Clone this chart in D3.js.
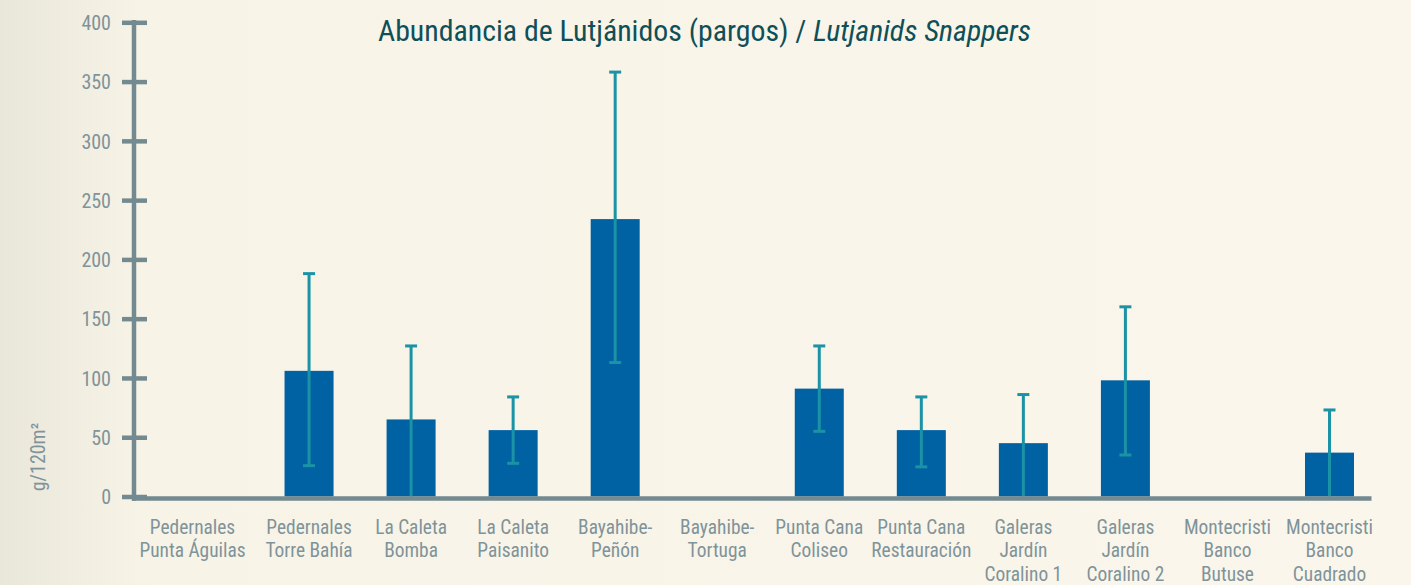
<!DOCTYPE html>
<html>
<head>
<meta charset="utf-8">
<script src="https://cdn.jsdelivr.net/npm/d3@7"></script>
<style>
  html, body { margin: 0; padding: 0; }
  body { width: 1411px; height: 585px; overflow: hidden; }
  svg text { font-family: "Liberation Sans Narrow", "Roboto Condensed", "Arial Narrow", sans-serif; }
</style>
</head>
<body>
<svg id="chart" width="1411" height="585"></svg>
<script>
// data
var sites = [
    ["Pedernales", "Punta Águilas"],
    ["Pedernales", "Torre Bahía"],
    ["La Caleta", "Bomba"],
    ["La Caleta", "Paisanito"],
    ["Bayahibe-", "Peñón"],
    ["Bayahibe-", "Tortuga"],
    ["Punta Cana", "Coliseo"],
    ["Punta Cana", "Restauración"],
    ["Galeras", "Jardín", "Coralino 1"],
    ["Galeras", "Jardín", "Coralino 2"],
    ["Montecristi", "Banco", "Butuse"],
    ["Montecristi", "Banco", "Cuadrado"]
];
var means = [0, 106, 65, 56, 234, 0, 91, 56, 45, 98, 0, 37];
var errHigh = [0, 188, 127, 84, 358, 0, 127, 84, 86, 160, 0, 73];
var errLow  = [0, 26, 0, 28, 113, 0, 55, 25, 0, 35, 0, 0];
var yTicks = [0, 50, 100, 150, 200, 250, 300, 350, 400];

var axisColor = "#738a90",
    labelColor = "#7f939a",
    barColor = "#0061a3",
    errColor = "#1b93a6";

document.addEventListener("DOMContentLoaded", function() {
    drawChart();
});

function drawChart() {

    var svg = d3.select("#chart");

    // background with a slightly darker left edge
    var grad = svg.append("defs").append("linearGradient")
        .attr("id", "bg")
        .attr("x1", 0).attr("x2", 1).attr("y1", 0).attr("y2", 0);
    grad.append("stop").attr("offset", "0").attr("stop-color", "#e9e6da");
    grad.append("stop").attr("offset", "0.1").attr("stop-color", "#f7f3e7");
    grad.append("stop").attr("offset", "1").attr("stop-color", "#faf6eb");
    svg.append("rect")
        .attr("width", 1411).attr("height", 585)
        .attr("fill", "url(#bg)");

    var keys = sites.map(function(d, i) { return i; });

    var x = d3.scalePoint()
        .domain(keys)
        .range([207, 1329.5]);

    var y = d3.scaleLinear()
        .domain([0, 400])
        .range([496.5, 22.3]);

    var barWidth = 49;

    // bars
    svg.append("g").selectAll("rect")
        .data(means)
        .enter().append("rect")
        .attr("x", function(d, i) { return x(i) - barWidth / 2; })
        .attr("y", function(d) { return y(d); })
        .attr("width", barWidth)
        .attr("height", function(d) { return y(0) - y(d); })
        .attr("fill", barColor);

    // error bars
    var err = svg.append("g")
        .attr("stroke", errColor)
        .attr("stroke-width", 3);

    keys.forEach(function(i) {
        if (errHigh[i] <= 0) return;
        err.append("line")
            .attr("x1", x(i)).attr("x2", x(i))
            .attr("y1", y(errHigh[i])).attr("y2", y(errLow[i]));
        err.append("line")
            .attr("x1", x(i) - 6).attr("x2", x(i) + 6)
            .attr("y1", y(errHigh[i])).attr("y2", y(errHigh[i]));
        if (errLow[i] > 0) {
            err.append("line")
                .attr("x1", x(i) - 6).attr("x2", x(i) + 6)
                .attr("y1", y(errLow[i])).attr("y2", y(errLow[i]));
        }
    });

    // y axis
    var yAxis = svg.append("g")
        .attr("transform", "translate(134,0)")
        .call(d3.axisLeft(y).tickValues(yTicks).tickSize(12).tickPadding(11));
    yAxis.select(".domain").remove();
    yAxis.selectAll(".tick line")
        .attr("x1", -12).attr("x2", 13)
        .attr("stroke", axisColor)
        .attr("stroke-width", 4.5);
    yAxis.selectAll(".tick text")
        .attr("fill", labelColor)
        .style("font-size", "20px")
        .attr("dy", "0.36em");
    yAxis.append("line")
        .attr("x1", 0).attr("x2", 0)
        .attr("y1", y(400) - 2.3).attr("y2", y(0) + 4.3)
        .attr("stroke", axisColor)
        .attr("stroke-width", 4.5);

    // x axis line
    svg.append("line")
        .attr("x1", 132).attr("x2", 1371.5)
        .attr("y1", y(0) + 2).attr("y2", y(0) + 2)
        .attr("stroke", axisColor)
        .attr("stroke-width", 4.5);

    // category labels
    var xl = svg.append("g").selectAll("text")
        .data(sites)
        .enter().append("text")
        .attr("x", function(d, i) { return x(i) + (i === 0 ? -14.5 : 0); })
        .attr("y", 533.5)
        .attr("text-anchor", "middle")
        .attr("fill", labelColor)
        .style("font-size", "19.4px");
    xl.selectAll("tspan")
        .data(function(d) { return d; })
        .enter().append("tspan")
        .attr("x", function() { return d3.select(this.parentNode).attr("x"); })
        .attr("dy", function(d, j) { return j === 0 ? 0 : 23.5; })
        .text(function(d) { return d; });

    // y axis title
    svg.append("text")
        .attr("transform", "translate(45,457) rotate(-90)")
        .attr("text-anchor", "middle")
        .attr("fill", labelColor)
        .style("font-size", "20px")
        .text("g/120m²");

    // chart title
    var title = svg.append("text")
        .attr("x", 704.5)
        .attr("y", 41)
        .attr("text-anchor", "middle")
        .attr("fill", "#0e4f58")
        .style("font-size", "29.8px");
    title.append("tspan").text("Abundancia de Lutjánidos (pargos) / ");
    title.append("tspan").style("font-style", "italic").text("Lutjanids Snappers");
}
</script>
</body>
</html>
